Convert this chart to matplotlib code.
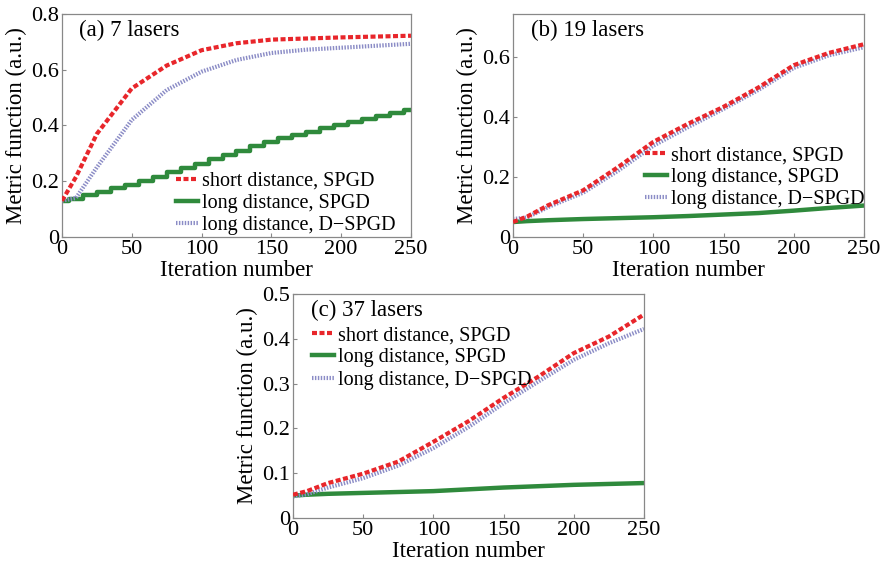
import numpy as np
import matplotlib
matplotlib.use("Agg")
import matplotlib.pyplot as plt
from matplotlib.ticker import FuncFormatter

plt.rcParams['font.family'] = ['Liberation Serif', 'DejaVu Serif']

# ---- data ----
it = [0, 10, 25, 50, 75, 100, 125, 150, 175, 200, 225, 250]

a_short = [0.13, 0.215, 0.37, 0.533, 0.615, 0.67, 0.695, 0.708, 0.712, 0.716, 0.719, 0.722]
a_dspgd = [0.13, 0.14, 0.25, 0.42, 0.527, 0.593, 0.635, 0.66, 0.672, 0.679, 0.686, 0.693]
it_g = [0, 10, 20, 30, 40, 50, 60, 70, 80, 90, 100, 110, 120, 130, 140, 150,
        160, 170, 180, 190, 200, 210, 220, 230, 240, 250]
a_long = [0.13, 0.135, 0.15, 0.163, 0.175, 0.186, 0.2, 0.215, 0.232, 0.248, 0.263,
          0.278, 0.295, 0.31, 0.326, 0.341, 0.355, 0.367, 0.378, 0.39, 0.40,
          0.412, 0.423, 0.435, 0.446, 0.457]

b_short = [0.05, 0.068, 0.106, 0.156, 0.234, 0.318, 0.379, 0.435, 0.50, 0.574, 0.615, 0.644]
b_dspgd = [0.06, 0.065, 0.10, 0.148, 0.222, 0.305, 0.368, 0.428, 0.492, 0.565, 0.607, 0.634]
b_long = [0.05, 0.053, 0.056, 0.06, 0.063, 0.066, 0.07, 0.075, 0.08, 0.088, 0.097, 0.105]

c_short = [0.052, 0.06, 0.078, 0.099, 0.126, 0.17, 0.216, 0.268, 0.316, 0.368, 0.405, 0.454]
c_dspgd = [0.048, 0.053, 0.068, 0.089, 0.117, 0.156, 0.203, 0.256, 0.305, 0.353, 0.39, 0.422]
c_long = [0.05, 0.052, 0.054, 0.056, 0.058, 0.06, 0.064, 0.068, 0.071, 0.074, 0.076, 0.078]

labels = ['short distance, SPGD', 'long distance, SPGD', 'long distance, D\u2212SPGD']
titles = ['(a) 7 lasers', '(b) 19 lasers', '(c) 37 lasers']

red = '#e8262b'
green = '#2f8a3c'
blue = '#8b8cc6'

fig = plt.figure(figsize=(8.83, 5.66), dpi=100)
axa = fig.add_axes([0.0702, 0.5813, 0.3952, 0.394])
axb = fig.add_axes([0.581, 0.5813, 0.3975, 0.394])
axc = fig.add_axes([0.3318, 0.0848, 0.3975, 0.3958])


def fmt(v, pos):
    if abs(v) < 1e-9:
        return '0'
    return ('%.1f' % v)


def panel(ax, short, long_x, long_y, dspgd, ylim, yticks, title, legloc, gstyle='default'):
    ls, = ax.plot(it, short, color=red, lw=3, ls=(0, (1.2, 0.6)), zorder=3)
    ll, = ax.plot(long_x, long_y, color=green, lw=3.2, drawstyle=gstyle, zorder=2)
    ld, = ax.plot(it, dspgd, color=blue, lw=3, ls=(0, (0.35, 0.35)), zorder=2.5)
    ax.set_xlim(0, 250)
    ax.set_ylim(*ylim)
    ax.set_xticks([0, 50, 100, 150, 200, 250])
    ax.set_yticks(yticks)
    ax.yaxis.set_major_formatter(FuncFormatter(fmt))
    ax.tick_params(direction='in', length=3, width=0.8, color='#888888',
                   labelsize=16, pad=2)
    for s in ax.spines.values():
        s.set_color('#888888')
        s.set_linewidth(0.9)
    ax.set_xlabel('Iteration number', fontsize=16.5, labelpad=1)
    ax.set_ylabel('Metric function (a.u.)', fontsize=16.5, labelpad=3)
    ax.text(0.05, 0.975, title, transform=ax.transAxes, fontsize=16.5, va='top', ha='left')
    ax.legend([ls, ll, ld], labels, fontsize=14.5, frameon=False, handlelength=1.1,
              handletextpad=0.2, labelspacing=0.15, borderaxespad=0.2, **legloc)


panel(axa, a_short, it_g, a_long, a_dspgd, (0, 0.8), [0, 0.2, 0.4, 0.6, 0.8], titles[0],
      dict(loc='lower right', bbox_to_anchor=(0.99, -0.045)), gstyle='steps-mid')
panel(axb, b_short, it, b_long, b_dspgd, (0, 0.745), [0, 0.2, 0.4, 0.6], titles[1],
      dict(loc='lower right', bbox_to_anchor=(1.035, 0.07)))
panel(axc, c_short, it, c_long, c_dspgd, (0, 0.5), [0, 0.1, 0.2, 0.3, 0.4, 0.5], titles[2],
      dict(loc='upper left', bbox_to_anchor=(0.02, 0.91)))

fig.savefig('out.png', dpi=100)
